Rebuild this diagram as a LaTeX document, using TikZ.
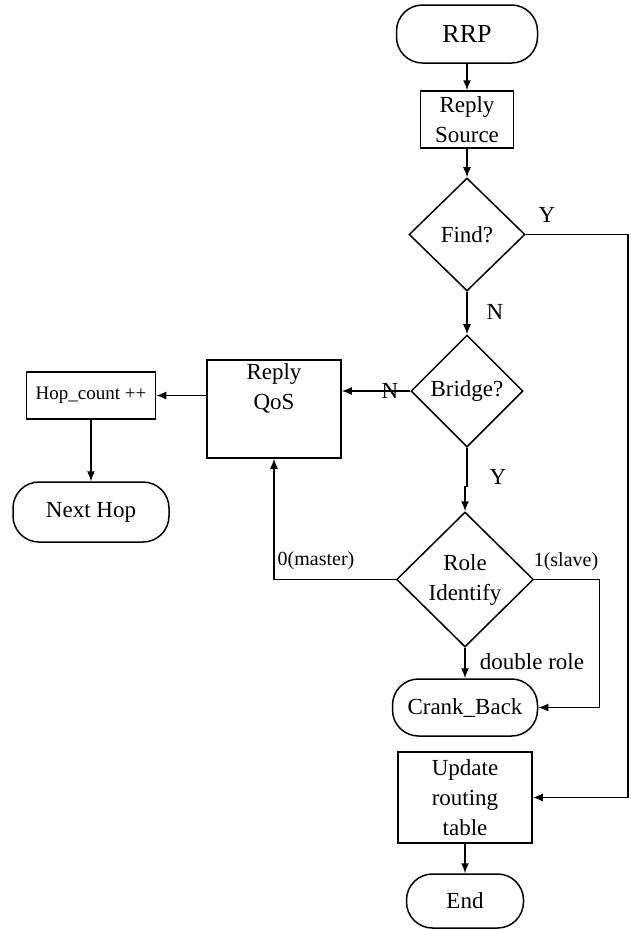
\documentclass[tikz,border=0pt]{standalone}
\usepackage{fontspec}
\setmainfont{Liberation Serif}
\usetikzlibrary{
  shapes.geometric,%
  arrows.meta,%
  positioning
}
\tikzset{>={Latex[length=10pt,width=8pt]}}
\tikzset{
  every node/.style={font=\fontsize{23}{30}\selectfont},
  procbox/.style={draw, rectangle, inner sep=0pt, align=center},
  termbox/.style={draw, rectangle, rounded corners=26pt, inner sep=0pt},
  decbox/.style={draw, diamond, inner sep=0pt, align=center},
  lbl/.style={inner sep=0pt},
  small/.style={font=\fontsize{20}{24}\selectfont}
}
\begin{document}
\begin{tikzpicture}[x=1pt, y=-1pt, line width=1.5pt]
  \useasboundingbox (0,0) rectangle (630,930);
  % main column
  \node[termbox, minimum width=141pt, minimum height=58pt, font=\fontsize{26}{30}\selectfont] (rrp) at (467,34) {RRP};
  \node[procbox, minimum width=93pt, minimum height=57pt] (src) at (467,119.5) {Reply\\Source};
  \node[decbox, minimum width=116pt, minimum height=113pt] (find) at (467,234.5) {Find?};
  \node[decbox, minimum width=112pt, minimum height=112pt] (bridge) at (467,391) {Bridge?};
  \node[decbox, minimum width=137pt, minimum height=135pt] (role) at (465,579.5) {Role\\Identify};
  \node[termbox, minimum width=145pt, minimum height=57pt] (crank) at (465,707.5) {Crank\_Back};
  \node[procbox, minimum width=134pt, minimum height=91pt] (update) at (465,797.5) {Update\\routing\\table};
  \node[termbox, minimum width=117pt, minimum height=54pt] (end) at (465,901) {End};
  % left side
  \node[procbox, minimum width=134pt, minimum height=98pt,
    label={[anchor=north, align=center]north:Reply\\QoS}] (qos) at (274,409) {};
  \node[procbox, minimum width=129pt, minimum height=47pt, font=\fontsize{19}{22}\selectfont] (hop) at (91,395.5) {Hop\_count ++};
  \node[termbox, minimum width=156pt, minimum height=60pt] (next) at (91,512) {Next Hop};
  % branch labels
  \node[lbl] (yfind) at (547,215) {Y};
  \node[lbl] (nfind) at (495,312) {N};
  \node[lbl] (nbridge) at (390,391) {N};
  \node[lbl] (ybridge) at (498,477) {Y};
  \node[lbl, small] (master) at (316,561) {0(master)};
  \node[lbl, small] (slave) at (566,562) {1(slave)};
  \node[lbl] (double) at (532,662) {double role};
  % connectors
  \draw[->] (rrp) -- (src);
  \draw[->] (src) -- (find);
  \draw[->] (find) -- (bridge);
  \draw[->] (find.east) -- ++(102,0) |- (update.east);
  \draw[->] (bridge.west) -- (bridge.west -| qos.east);
  \draw[->] (bridge.south) |- ([yshift=25pt]role.north) -- (role.north);
  \draw[->] (hop.east -| qos.west) -- (hop.east);
  \draw[->] (hop) -- (next);
  \draw[->] (role.west) -| (qos.south);
  \draw[->] (role.east) -- ++(65,0) |- (crank.east);
  \draw[->] (role) -- (crank);
  \draw[->] (update) -- (end);
\end{tikzpicture}
\end{document}
